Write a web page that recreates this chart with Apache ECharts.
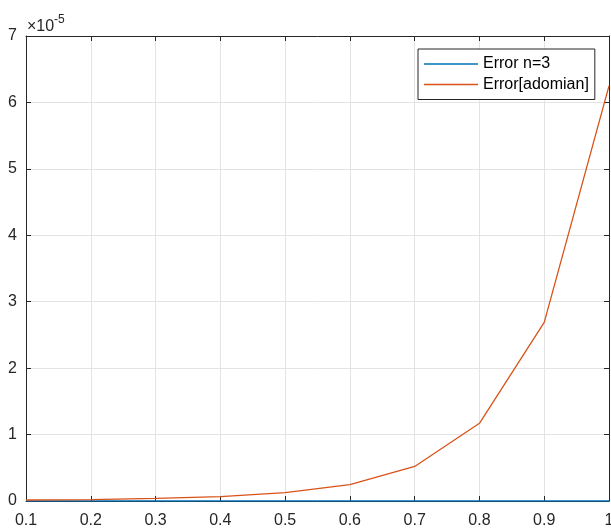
<!DOCTYPE html>
<html>
<head>
<meta charset="utf-8">
<script src="https://cdn.jsdelivr.net/npm/echarts@6/dist/echarts.min.js"></script>
<style>
  html, body { margin: 0; padding: 0; background: #fff; }
  #chart { width: 611px; height: 529px; }
</style>
</head>
<body>
<div id="chart"></div>
<script>
// Step points and the absolute errors of the two approximations
const xValues = [0.1, 0.2, 0.3, 0.4, 0.5, 0.6, 0.7, 0.8, 0.9, 1.0];
const errN3 = [1e-11, 2e-11, 4e-11, 7e-11, 1.2e-10, 2.2e-10, 3.8e-10, 6.2e-10, 9.8e-10, 1.5e-9];
const errAdomian = [0.015e-5, 0.02e-5, 0.04e-5, 0.065e-5, 0.125e-5, 0.245e-5, 0.52e-5, 1.17e-5, 2.69e-5, 6.25e-5];
const seriesNames = ['Error n=3', 'Error[adomian]'];
const yScale = 1e-5;

const FONT = '"Liberation Sans", Arial, Helvetica, sans-serif';
const AXIS_COLOR = '#262626';

const chart = echarts.init(document.getElementById('chart'), null, { renderer: 'canvas' });

const pairs = arr => xValues.map((x, i) => [x, arr[i]]);

const baseX = {
  type: 'value', min: 0.1, max: 1, interval: 0.1,
  axisLine: { show: true, onZero: false, lineStyle: { color: AXIS_COLOR, width: 1 } },
  axisTick: { show: true, inside: true, length: 5, lineStyle: { color: AXIS_COLOR } },
  splitLine: { show: false }
};
const baseY = {
  type: 'value', min: 0, max: 7e-5, interval: 1e-5,
  axisLine: { show: true, onZero: false, lineStyle: { color: AXIS_COLOR, width: 1 } },
  axisTick: { show: true, inside: true, length: 5, lineStyle: { color: AXIS_COLOR } },
  splitLine: { show: false }
};

chart.setOption({
  animation: false,
  backgroundColor: '#ffffff',
  grid: { left: 26, right: 2, top: 36, bottom: 28, containLabel: false, outerBoundsMode: 'none' },
  xAxis: [
    Object.assign({}, baseX, {
      position: 'bottom',
      axisLabel: {
        show: true, margin: 12, color: AXIS_COLOR, fontSize: 16, fontFamily: FONT,
        formatter: v => String(+v.toFixed(1))
      },
      splitLine: { show: true, lineStyle: { color: '#e3e3e3', width: 1 } }
    }),
    Object.assign({}, baseX, { position: 'top', axisLabel: { show: false } })
  ],
  yAxis: [
    Object.assign({}, baseY, {
      position: 'left',
      axisLabel: {
        show: true, margin: 9, color: AXIS_COLOR, fontSize: 16, fontFamily: FONT,
        formatter: v => String(Math.round(v / yScale))
      },
      splitLine: { show: true, lineStyle: { color: '#e3e3e3', width: 1 } }
    }),
    Object.assign({}, baseY, { position: 'right', axisLabel: { show: false } })
  ],
  legend: {
    orient: 'vertical',
    left: 418, top: 49,
    padding: [7, 6, 7, 6],
    icon: 'rect',
    itemWidth: 54, itemHeight: 1.5, itemGap: 4.5,
    backgroundColor: '#ffffff',
    borderColor: AXIS_COLOR, borderWidth: 1,
    textStyle: { color: '#000', fontSize: 16, fontFamily: FONT },
    data: seriesNames
  },
  graphic: [
    {
      type: 'text', left: 27, top: 19,
      style: { text: '×10', fontSize: 16, fontFamily: FONT, fill: AXIS_COLOR }
    },
    {
      type: 'text', left: 54, top: 14,
      style: { text: '-5', fontSize: 12, fontFamily: FONT, fill: AXIS_COLOR }
    }
  ],
  series: [
    {
      name: seriesNames[0], type: 'line', data: pairs(errN3),
      symbol: 'none', lineStyle: { color: '#0072BD', width: 1.3 },
      itemStyle: { color: '#0072BD' }, z: 3
    },
    {
      name: seriesNames[1], type: 'line', data: pairs(errAdomian),
      symbol: 'none', lineStyle: { color: '#D95319', width: 1.3 },
      itemStyle: { color: '#D95319' }, z: 4
    }
  ]
});
</script>
</body>
</html>
